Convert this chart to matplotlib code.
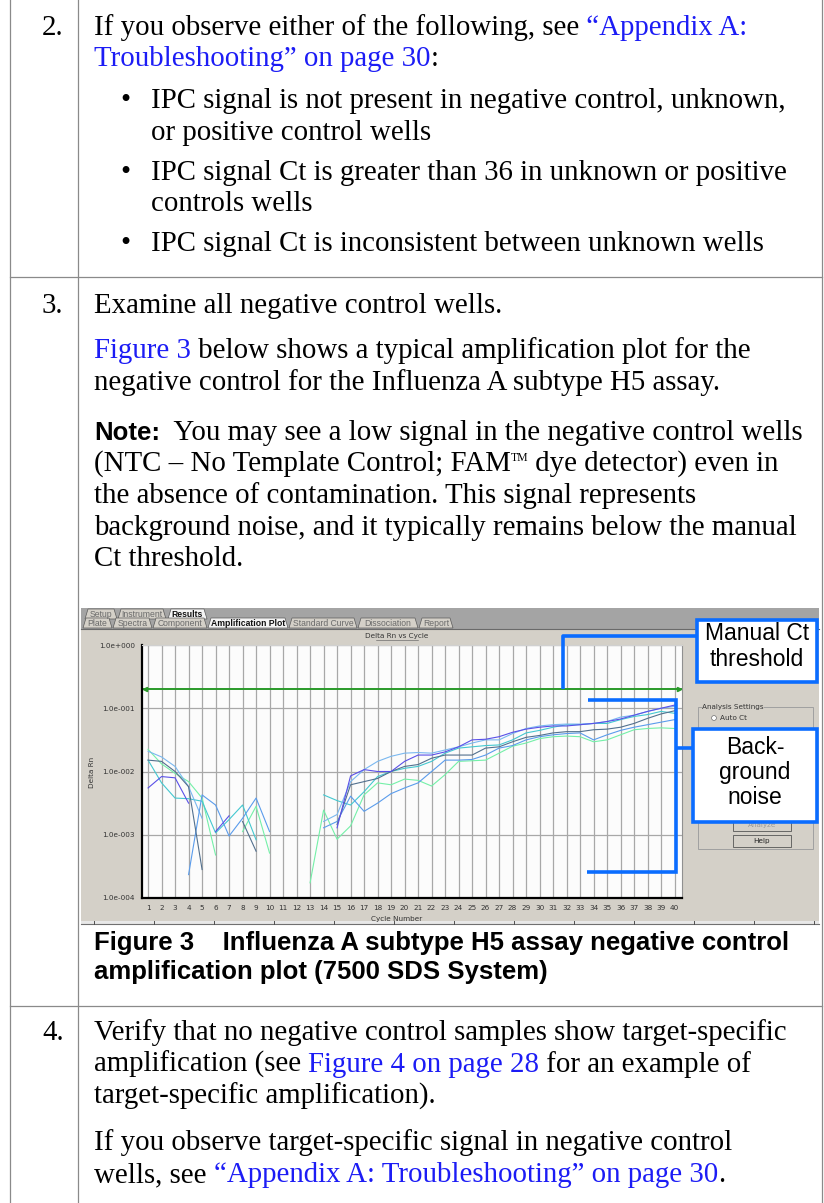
import numpy as np
import matplotlib.pyplot as plt
from matplotlib.patches import Rectangle, Polygon, Circle

nan = np.nan
cycles = np.arange(1, 41)

# log10(Delta Rn) per well (gaps = no value plotted)
well_purple = [-2.26, -2.08, -2.10, -2.50, nan, -2.95, -2.70, nan, nan, nan,
               nan, nan, nan, nan, -2.89, -2.07, -1.97, -2.00, -2.00, -1.84,
               -1.74, -1.74, -1.69, -1.61, -1.50, -1.49, -1.45, -1.38, -1.33, -1.30,
               -1.28, -1.28, -1.26, -1.24, -1.21, -1.17, -1.11, -1.05, -1.00, -0.95]
well_lightblue = [-1.68, -1.77, -1.92, -2.24, -2.74, nan, nan, nan, nan, nan,
                  nan, nan, nan, -2.79, -2.68, -2.16, -1.97, -1.84, -1.76, -1.71,
                  -1.70, -1.71, -1.66, -1.61, -1.55, -1.50, -1.50, -1.40, -1.32, -1.28,
                  -1.26, -1.25, -1.25, -1.24, -1.21, -1.14, -1.11, -1.05, -1.00, -0.97]
well_slate = [-1.82, -1.84, -2.00, -2.24, -3.55, nan, nan, -2.79, -3.26, nan,
              nan, nan, nan, nan, -2.84, -2.21, -2.16, -2.11, -2.00, -1.92,
              -1.89, -1.79, -1.74, -1.74, -1.74, -1.63, -1.61, -1.53, -1.46, -1.43,
              -1.39, -1.37, -1.37, -1.34, -1.33, -1.30, -1.24, -1.16, -1.09, -1.04]
well_cyan = [-1.82, -2.18, -2.42, -2.43, -2.47, -2.97, -2.76, -2.53, -3.08, nan,
             nan, nan, nan, -2.37, -2.46, -2.53, -2.32, -2.08, -2.00, -1.95,
             -1.92, -1.84, -1.71, -1.63, -1.61, -1.59, -1.58, -1.50, -1.39, -1.35,
             -1.30, -1.26, -1.26, -1.24, -1.24, -1.18, -1.13, -1.10, -1.05, -1.08]
well_blue = [nan, nan, nan, -3.63, -2.37, -2.53, -3.02, -2.74, -2.42, -2.95,
             nan, nan, nan, -2.89, -2.79, -2.39, -2.63, -2.50, -2.35, -2.26,
             -2.18, -2.00, -1.82, -1.82, -1.81, -1.74, -1.63, -1.59, -1.50, -1.45,
             -1.42, -1.40, -1.39, -1.50, -1.42, -1.35, -1.30, -1.26, -1.22, -1.18]
well_green = [-1.65, -1.88, -2.03, -2.16, -2.42, -3.32, nan, -2.95, -2.55, -3.29,
              nan, nan, -3.76, -2.61, -3.07, -2.86, -2.37, -2.18, -2.21, -2.12,
              -2.14, -2.23, -2.05, -1.84, -1.83, -1.82, -1.71, -1.60, -1.55, -1.48,
              -1.45, -1.44, -1.45, -1.53, -1.50, -1.42, -1.34, -1.32, -1.31, -1.32]
wells = [well_green, well_cyan, well_lightblue, well_blue, well_slate, well_purple]
well_colors = ['#74f0a8', '#44c8d0', '#7ab8f0', '#5a9cec', '#52708e', '#5a50e8']

threshold = 0.2
ytick_vals = [1e-4, 1e-3, 1e-2, 1e-1, 1e0]
ytick_text = ['1.0e-004', '1.0e-003', '1.0e-002', '1.0e-001', '1.0e+000']

SERIF = 'Liberation Serif'
SANS = 'Liberation Sans'
BODY = 20.8
CAP = 18.5
LINK = '#1c1cf5'
ANN = '#0a6cff'

fig = plt.figure(figsize=(8.24, 12.03), dpi=100)
bg = fig.add_axes([0, 0, 1, 1], zorder=0)
bg.set_xlim(0, 824)
bg.set_ylim(1203, 0)
bg.axis('off')
renderer = fig.canvas.get_renderer()


def line(x, y, parts, size=BODY):
    for p in parts:
        s, c = p[0], p[1]
        o = dict(family=SERIF, weight='normal', size=size, dy=0)
        if len(p) > 2:
            o.update(p[2])
        t = bg.text(x, y - o['dy'], s, color=c, fontfamily=o['family'],
                    fontweight=o['weight'], fontsize=o['size'],
                    va='baseline', ha='left')
        x += t.get_window_extent(renderer).width


# table rules
for xv in (10, 78, 822):
    bg.plot([xv, xv], [0, 1203], color='#8a8a8a', lw=0.9)
for yv in (277, 1006):
    bg.plot([10, 822], [yv, yv], color='#8a8a8a', lw=0.9)

K = 'black'
TX = 94
BX = 151
# step 2
line(42, 35, [('2.', K)])
line(TX, 35, [('If you observe either of the following, see', K), (' \u201cAppendix A:', LINK)])
line(TX, 66, [('Troubleshooting\u201d on page 30', LINK), (':', K)])
for yb, txt in [(108, 'IPC signal is not present in negative control, unknown,'),
                (180, 'IPC signal Ct is greater than 36 in unknown or positive'),
                (251, 'IPC signal Ct is inconsistent between unknown wells')]:
    line(120, yb, [('\u2022', K)])
    line(BX, yb, [(txt, K)])
line(BX, 140, [('or positive control wells', K)])
line(BX, 211, [('controls wells', K)])

# step 3
line(42, 313, [('3.', K)])
line(TX, 313, [('Examine all negative control wells.', K)])
line(TX, 358, [('Figure 3', LINK), (' below shows a typical amplification plot for the', K)])
line(TX, 390, [('negative control for the Influenza A subtype H5 assay.', K)])
line(TX, 440, [('Note:', K, dict(family=SANS, weight='bold', size=18.5)),
               ('  You may see a low signal in the negative control wells', K)])
line(TX, 471, [('(NTC \u2013 No Template Control; FAM', K),
               ('TM', K, dict(size=8.5, dy=10)),
               (' dye detector) even in', K)])
line(TX, 503, [('the absence of contamination. This signal represents', K)])
line(TX, 535, [('background noise, and it typically remains below the manual', K)])
line(TX, 566, [('Ct threshold.', K)])

# caption
line(TX, 950, [('Figure 3    Influenza A subtype H5 assay negative control', K,
                dict(family=SANS, weight='bold', size=CAP))])
line(TX, 979, [('amplification plot (7500 SDS System)', K,
                dict(family=SANS, weight='bold', size=CAP))])

# step 4
line(42, 1040, [('4.', K)])
line(TX, 1040, [('Verify that no negative control samples show target-specific', K)])
line(TX, 1072, [('amplification (see ', K), ('Figure 4 on page 28', LINK), (' for an example of', K)])
line(TX, 1104, [('target-specific amplification).', K)])
line(TX, 1150, [('If you observe target-specific signal in negative control', K)])
line(TX, 1182, [('wells, see ', K), ('\u201cAppendix A: Troubleshooting\u201d on page 30', LINK), ('.', K)])

# ---- screenshot chrome ----
bg.add_patch(Rectangle((81, 608), 738, 316, fc='#d4d0c8', ec='none'))
bg.add_patch(Rectangle((81, 608), 738, 21, fc='#a4a4a4', ec='none'))
bg.plot([81, 819], [628.5, 628.5], color='#6a6a6a', lw=0.8)


def tab(x0, x1, y0, y1, label, active):
    fc = '#f4f4f4' if active else '#d4d0c8'
    bg.add_patch(Polygon([(x0, y1), (x0 + 3, y0), (x1 - 3, y0), (x1, y1)],
                         closed=True, fc=fc, ec='#5a5a5a', lw=0.5))
    bg.text((x0 + x1) / 2, (y0 + y1) / 2 + 0.5, label, ha='center', va='center',
            fontsize=6.2, family=SANS, weight='bold' if active else 'normal',
            color='#111111' if active else '#6a6a6a')


for x0, x1, lab, act in [(85, 117, 'Setup', False), (118, 166, 'Instrument', False),
                         (168, 207, 'Results', True)]:
    tab(x0, x1, 609, 619, lab, act)
for x0, x1, lab, act in [(83, 112, 'Plate', False), (113, 152, 'Spectra', False),
                         (153, 207, 'Component', False), (208, 288, 'Amplification Plot', True),
                         (289, 357, 'Standard Curve', False), (358, 418, 'Dissociation', False),
                         (419, 453, 'Report', False)]:
    tab(x0, x1, 618, 628, lab, act)

small = dict(fontsize=5.2, family='DejaVu Sans', color='#333333')
bg.text(397, 636, 'Delta Rn vs Cycle', ha='center', va='center', **small)
bg.plot([376, 418], [639.5, 639.5], color='#555555', lw=0.4)
bg.text(397, 919, 'Cycle Number', ha='center', va='center', **small)
bg.text(92, 772, 'Delta Rn', ha='center', va='center', rotation=90, **small)

# bottom strip of the window
bg.add_patch(Rectangle((81, 921), 738, 3, fc='#e8e8e8', ec='none'))
bg.plot([81, 819], [924, 924], color='#707070', lw=0.8)
for xt in range(94, 819, 60):
    bg.plot([xt, xt], [921, 924], color='#505050', lw=0.7)

# right-hand settings panel
bg.add_patch(Rectangle((698, 707), 115, 142, fc='none', ec='#a0a0a0', lw=0.7))
bg.text(702, 707, 'Analysis Settings', ha='left', va='center',
        bbox=dict(fc='#d4d0c8', ec='none', pad=0.3), **small)
bg.add_patch(Circle((714, 718), 2.4, fc='white', ec='#707070', lw=0.5))
bg.text(720, 718, 'Auto Ct', ha='left', va='center', **small)
for yb, lab, col in [(819, 'Analyze', '#9a9a9a'), (835, 'Help', '#222222')]:
    bg.add_patch(Rectangle((733, yb), 58, 12, fc='#d4d0c8', ec='#555555', lw=0.6))
    bg.text(762, yb + 6, lab, ha='center', va='center', fontsize=5.2,
            family='DejaVu Sans', color=col)

# ---- amplification plot ----
ax = fig.add_axes([142 / 824, 1 - 898 / 1203, 540 / 824, 253 / 1203], zorder=1)
ax.set_facecolor('#fcfcfc')
ax.set_yscale('log')
ax.set_xlim(0.55, 40.55)
ax.set_ylim(1e-4, 1)
ax.set_xticks(cycles)
ax.set_xticklabels([str(c) for c in cycles])
ax.set_yticks(ytick_vals)
ax.set_yticklabels(ytick_text)
ax.yaxis.set_minor_locator(plt.NullLocator())
ax.tick_params(length=0, labelsize=5.2, labelcolor='#333333', pad=5)
for lab in ax.get_xticklabels() + ax.get_yticklabels():
    lab.set_fontfamily('DejaVu Sans')
ax.grid(True, color='#a8a8a8', lw=0.9)
ax.set_axisbelow(True)
ax.spines['left'].set_color('black')
ax.spines['left'].set_linewidth(1.6)
ax.spines['bottom'].set_color('black')
ax.spines['bottom'].set_linewidth(1.6)
ax.spines['right'].set_color('#909090')
ax.spines['top'].set_color('#d0d0d0')

for vals, col in zip(wells, well_colors):
    ax.plot(cycles, np.power(10.0, vals), color=col, lw=0.8)

ax.plot([0.62, 40.45], [threshold, threshold], color='#2a9a2a', lw=1.4)
ax.plot([0.75], [threshold], marker='<', ms=3, color='#2a9a2a')
ax.plot([40.35], [threshold], marker='>', ms=3, color='#2a9a2a')

# ---- callouts ----
top = fig.add_axes([0, 0, 1, 1], zorder=2)
top.set_xlim(0, 824)
top.set_ylim(1203, 0)
top.axis('off')
lw = 2.6
top.plot([697, 563, 563], [636, 636, 689], color=ANN, lw=lw, solid_capstyle='butt')
top.plot([588, 676, 676, 587], [700, 700, 872, 872], color=ANN, lw=lw,
         solid_joinstyle='miter', solid_capstyle='butt')
top.plot([676, 693], [748, 748], color=ANN, lw=lw, solid_capstyle='butt')
top.add_patch(Rectangle((697, 620), 120, 62, fc='white', ec=ANN, lw=lw))
top.add_patch(Rectangle((693, 729), 124, 93, fc='white', ec=ANN, lw=lw))
for yy, s in [(633, 'Manual Ct'), (660, 'threshold')]:
    top.text(757, yy, s, ha='center', va='center', fontsize=16.5, family=SANS)
for yy, s in [(747, 'Back-'), (773, 'ground'), (798, 'noise')]:
    top.text(755, yy, s, ha='center', va='center', fontsize=16.5, family=SANS)

fig.savefig('out.png', dpi=100)
